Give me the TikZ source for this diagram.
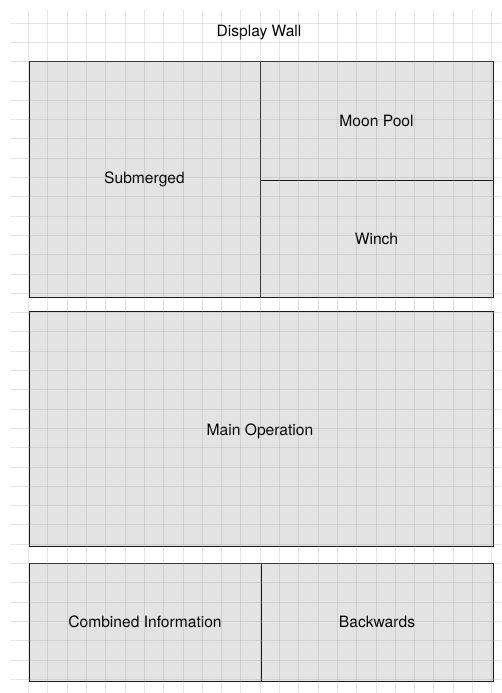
\documentclass[tikz,border=0pt]{standalone}
\usepackage{fontspec}
\setmainfont{TeX Gyre Heros}
\begin{document}
\begin{tikzpicture}[x=1pt,y=-1pt,
	panel/.style={draw=black!90, line width=1pt, fill=black!11, inner sep=0pt},
	gridline/.style={black!40, opacity=0.25, line width=0.7pt},
	font=\fontsize{15.6}{18}\selectfont]
		\useasboundingbox[fill=white] (0,0) rectangle (501,693);
		
		% Title
		\node (wall) at (259,33) {Display Wall};
		
		% Upper panels
		\node[panel, minimum width=231pt, minimum height=235pt] (submerged) at (144.5,179.5) {Submerged};
		\node[panel, minimum width=233pt, minimum height=118pt] (moonpool) at (376.5,121) {Moon Pool};
		\node[panel, minimum width=233pt, minimum height=117pt] (winch) at (376.5,238.5) {Winch};
		
		% Main panel
		\node[panel, minimum width=464pt, minimum height=235pt] (mainop) at (261,428.5) {};
		\node (mainlabel) at (260,431) {Main Operation};
		
		% Lower panels
		\node[panel, minimum width=232pt, minimum height=118pt] (combined) at (145,622) {Combined Information};
		\node[panel, minimum width=232pt, minimum height=118pt] (backwards) at (377,622) {Backwards};
		
		% Grid over everything
		\foreach \k in {0,...,24}
			\draw[gridline] (28.5+\k*19.3, 10) -- (28.5+\k*19.3, 693);
		\foreach \k in {0,...,35}
			\draw[gridline] (10, 23+\k*19.3) -- (501, 23+\k*19.3);
	\end{tikzpicture}
\end{document}
